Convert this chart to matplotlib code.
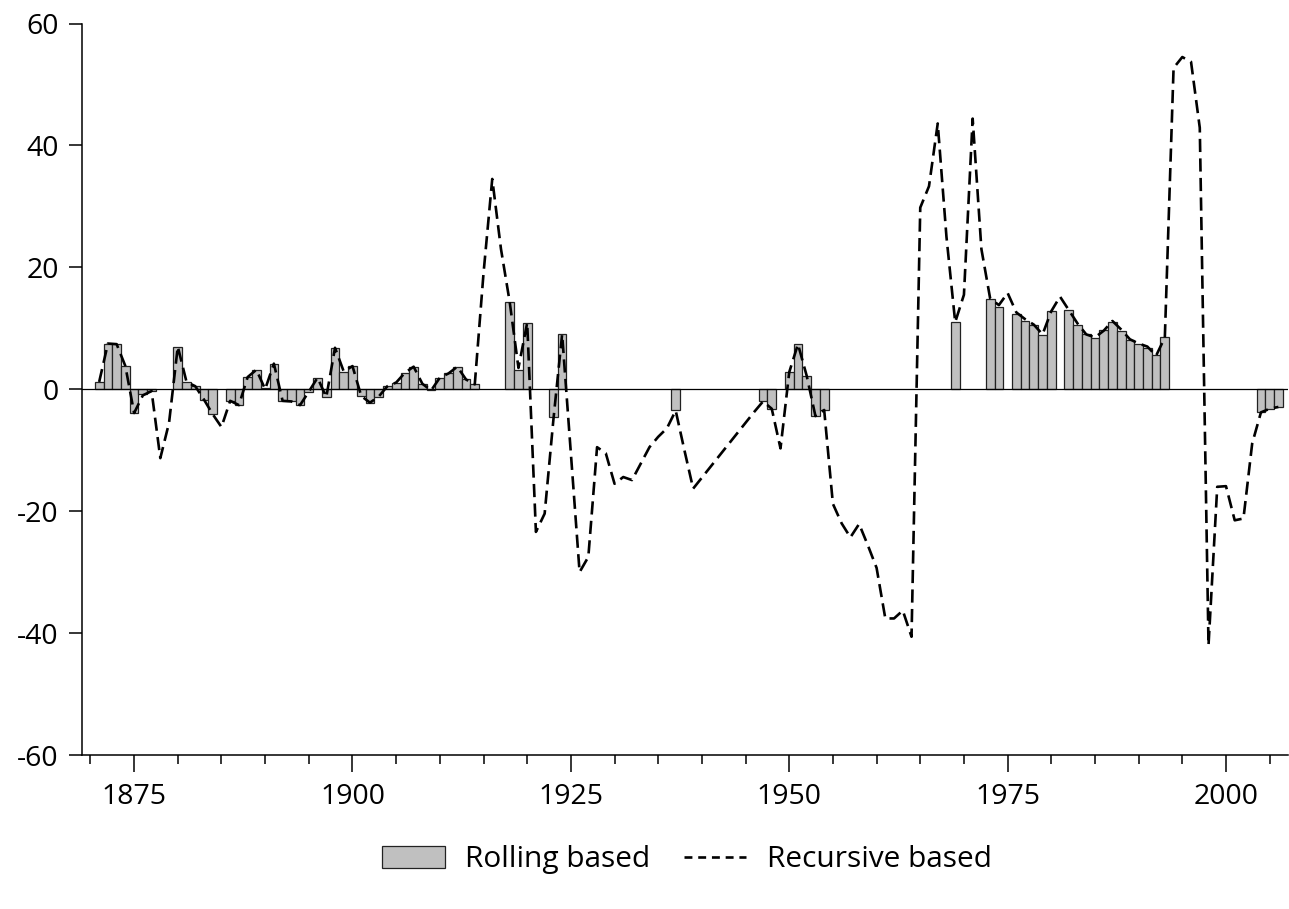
import numpy as np
import matplotlib
matplotlib.use("Agg")
import matplotlib.pyplot as plt
from matplotlib.ticker import MultipleLocator
from matplotlib.patches import Patch
from matplotlib.lines import Line2D

nan = np.nan
years = list(range(1871, 2007))

rolling = [
    1.2, 7.5, 7.4, 3.8, -3.9, -0.7, -0.3, nan, nan, 7.0,          # 1871-1880
    1.2, 0.5, -1.7, -4.1, nan, -1.9, -2.6, 2.0, 3.2, 0.2,          # 1881-1890
    4.2, -1.9, -2.0, -2.6, -0.4, 1.9, -1.3, 6.8, 2.9, 3.8,         # 1891-1900
    -1.1, -2.2, -1.2, 0.5, 1.1, 2.7, 3.7, 0.9, -0.2, 1.9,          # 1901-1910
    2.6, 3.7, 1.6, 0.8, nan, nan, nan, 14.3, 3.2, 10.9,            # 1911-1920
    nan, nan, -4.5, 9.0, nan, nan, nan, nan, nan, nan,             # 1921-1930
    nan, nan, nan, nan, nan, nan, -3.4, nan, nan, nan,             # 1931-1940
    nan, nan, nan, nan, nan, nan, -2.0, -3.2, nan, 2.8,            # 1941-1950
    7.4, 2.2, -4.4, -3.4, nan, nan, nan, nan, nan, nan,            # 1951-1960
    nan, nan, nan, nan, nan, nan, nan, nan, 11.0, nan,             # 1961-1970
    nan, nan, 14.8, 13.5, nan, 12.4, 11.2, 10.5, 8.9, 12.8,        # 1971-1980
    nan, 13.0, 10.5, 9.0, 8.4, 9.8, 11.1, 9.5, 8.0, 7.5,           # 1981-1990
    6.8, 5.7, 8.5, nan, nan, nan, nan, nan, nan, nan,              # 1991-2000
    nan, nan, nan, -3.7, -3.2, -2.9,                               # 2001-2006
]

recursive = [
    1.2, 7.5, 7.4, 3.8, -3.9, -1.0, -0.3, -11.3, -5.5, 7.0,        # 1871-1880
    1.2, 0.5, -1.7, -4.1, -6.2, -1.9, -2.6, 2.0, 3.2, 0.0,         # 1881-1890
    4.2, -1.9, -2.0, -2.6, -0.4, 1.9, -1.3, 6.8, 2.9, 3.8,         # 1891-1900
    -1.1, -2.2, -1.2, 0.5, 1.1, 2.7, 3.7, 0.9, -0.2, 1.9,          # 1901-1910
    2.6, 3.7, 1.6, 0.8, 19.0, 34.5, 23.0, 14.3, 3.5, 10.9,         # 1911-1920
    -23.4, -20.4, -5.0, 9.0, -10.5, -30.0, -27.5, -9.5, -10.5, -15.5,  # 1921-1930
    -14.4, -14.9, -12.2, -9.5, -7.8, -6.4, -3.5, -10.0, -16.3, -14.5,  # 1931-1940
    -12.7, -10.9, -9.1, -7.3, -5.5, -3.7, -2.0, -3.2, -9.7, 2.8,   # 1941-1950
    7.4, 2.2, -4.4, -3.4, -18.8, -22.0, -24.3, -22.1, -25.6, -29.3,    # 1951-1960
    -37.6, -37.6, -36.3, -40.6, 29.8, 33.3, 43.6, 25.0, 11.0, 15.5,    # 1961-1970
    44.4, 23.0, 14.9, 13.8, 15.8, 12.6, 11.5, 10.6, 9.0, 12.8,     # 1971-1980
    15.2, 13.0, 10.8, 9.0, 8.5, 9.6, 11.2, 9.8, 8.2, 7.5,          # 1981-1990
    7.0, 5.5, 8.5, 52.7, 54.5, 53.7, 42.9, -42.0, -16.0, -15.9,    # 1991-2000
    -21.5, -21.2, -8.9, -3.8, -3.2, -2.9,                          # 2001-2006
]

y_ticks = [-60, -40, -20, 0, 20, 40, 60]
x_major = [1875, 1900, 1925, 1950, 1975, 2000]
legend_labels = ["Rolling based", "Recursive based"]

plt.rcParams['font.family'] = ['Open Sans', 'DejaVu Sans']

fig = plt.figure(figsize=(12.89, 9.09), dpi=100)
ax = fig.add_axes([81.7 / 1289, 1 - 755 / 909, (1288 - 81.7) / 1289, (755 - 23.5) / 909])

dash = (0, (5.0, 2.4))
line_w = 1.9
ax.bar(years, rolling, width=1.0, color='#C0C0C0', edgecolor='#222222',
       linewidth=0.9, zorder=2)
ax.plot(years, recursive, color='black', linestyle=dash, linewidth=line_w, zorder=4)
ax.axhline(0, color='black', linewidth=0.9, zorder=3)

ax.set_xlim(1869, 2007.1)
ax.set_ylim(-60, 60)
ax.set_yticks(y_ticks)
ax.set_yticklabels([str(t) for t in y_ticks])
ax.set_xticks(x_major)
ax.set_xticklabels([str(t) for t in x_major])
ax.xaxis.set_minor_locator(MultipleLocator(5))

for s in ['top', 'right']:
    ax.spines[s].set_visible(False)
for s in ['left', 'bottom']:
    ax.spines[s].set_linewidth(1.1)
    ax.spines[s].set_color('black')

ax.tick_params(axis='y', which='major', direction='out', length=9.5, width=1.1,
               labelsize=20.5, pad=7)
ax.tick_params(axis='x', which='major', direction='out', length=12, width=1.1,
               labelsize=20.5, pad=8)
ax.tick_params(axis='x', which='minor', direction='out', length=6.5, width=1.1)

handles = [Patch(facecolor='#C0C0C0', edgecolor='#222222', linewidth=0.9),
           Line2D([0], [0], color='black', linestyle=(0, (3.0, 2.2)), linewidth=line_w)]
fig.legend(handles, legend_labels, loc='center', bbox_to_anchor=(0.533, 0.054),
           ncol=2, frameon=False, fontsize=21.5, handlelength=2.1,
           handleheight=0.75, columnspacing=1.1, handletextpad=0.7)

fig.savefig('out.png', dpi=100)
